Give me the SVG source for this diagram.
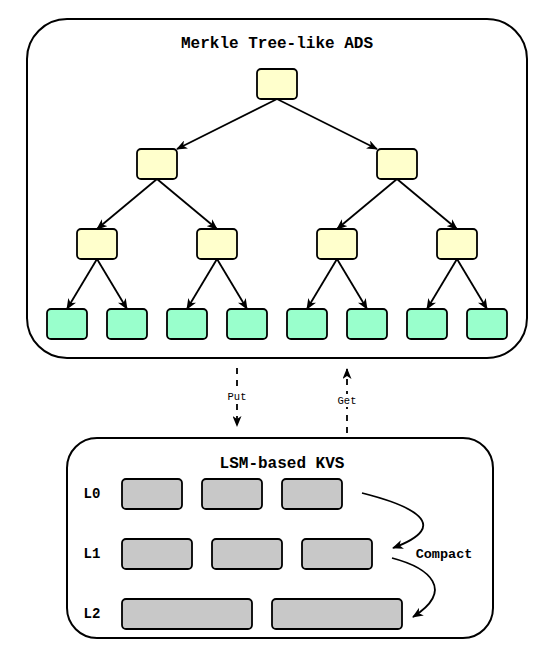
<svg xmlns="http://www.w3.org/2000/svg" width="554" height="653" viewBox="0 0 554 653">
<defs>
<style>
.frame{fill:#fff;stroke:#000;stroke-width:2}
.inner{fill:#FFFFCC;stroke:#000;stroke-width:1.8}
.leaf{fill:#99FFCC;stroke:#000;stroke-width:1.8}
.sst{fill:#C8C8C8;stroke:#000;stroke-width:1.8}
.edge{fill:none;stroke:#000;stroke-width:1.8}
.dash{fill:none;stroke:#000;stroke-width:1.8;stroke-dasharray:6 6}
.title{font-family:"Liberation Mono","Courier New",monospace;font-weight:bold;font-size:16px;text-anchor:middle}
.lvl{font-family:"Liberation Mono","Courier New",monospace;font-weight:bold;font-size:14px;text-anchor:middle}
.small{font-family:"Liberation Mono","Courier New",monospace;font-size:10.5px;text-anchor:middle}
.cmp{font-family:"Liberation Mono","Courier New",monospace;font-weight:bold;font-size:13.5px;text-anchor:middle}
</style>
<marker id="arr" viewBox="0 0 11 9" refX="10" refY="4.5" markerWidth="11" markerHeight="9" markerUnits="userSpaceOnUse" orient="auto">
<path d="M0,0 L11,4.5 L0,9 L3,4.5 z" fill="#000"/>
</marker>
</defs>

<g id="ads-frame">
<rect class="frame" x="27" y="19" width="500" height="339" rx="40"/>
<text class="title" x="277" y="48">Merkle Tree-like ADS</text>
</g>

<g id="lsm-frame">
<rect class="frame" x="67" y="438" width="426" height="200" rx="30"/>
<text class="title" x="282" y="468">LSM-based KVS</text>
</g>

<g id="connectors">
<path class="edge" marker-end="url(#arr)" d="M277,99 L177,149"/>
<path class="edge" marker-end="url(#arr)" d="M277,99 L377,149"/>
<path class="edge" marker-end="url(#arr)" d="M157,179 L97,229"/>
<path class="edge" marker-end="url(#arr)" d="M157,179 L217,229"/>
<path class="edge" marker-end="url(#arr)" d="M397,179 L337,229"/>
<path class="edge" marker-end="url(#arr)" d="M397,179 L457,229"/>
<path class="edge" marker-end="url(#arr)" d="M97,259 L67,309"/>
<path class="edge" marker-end="url(#arr)" d="M97,259 L127,309"/>
<path class="edge" marker-end="url(#arr)" d="M217,259 L187,309"/>
<path class="edge" marker-end="url(#arr)" d="M217,259 L247,309"/>
<path class="edge" marker-end="url(#arr)" d="M337,259 L307,309"/>
<path class="edge" marker-end="url(#arr)" d="M337,259 L367,309"/>
<path class="edge" marker-end="url(#arr)" d="M457,259 L427,309"/>
<path class="edge" marker-end="url(#arr)" d="M457,259 L487,309"/>
<path class="dash" marker-end="url(#arr)" d="M237,368 L237,426"/>
<path class="dash" marker-end="url(#arr)" d="M347,433 L347,369"/>
<path class="edge" marker-end="url(#arr)" d="M362,493 C410,505 455,525 393,548"/>
<path class="edge" marker-end="url(#arr)" d="M392,558 C430,568 455,590 413,617"/>
<rect x="225" y="390" width="24" height="13" fill="#fff"/>
<text class="small" x="237" y="400">Put</text>
<rect x="335" y="394" width="24" height="13" fill="#fff"/>
<text class="small" x="347" y="404">Get</text>
<text class="cmp" x="444" y="558">Compact</text>
</g>

<g id="root"><rect class="inner" x="257" y="69" width="40" height="30" rx="4"/></g>
<g id="n-l"><rect class="inner" x="137" y="149" width="40" height="30" rx="4"/></g>
<g id="n-r"><rect class="inner" x="377" y="149" width="40" height="30" rx="4"/></g>
<g id="n-ll"><rect class="inner" x="77" y="229" width="40" height="30" rx="4"/></g>
<g id="n-lr"><rect class="inner" x="197" y="229" width="40" height="30" rx="4"/></g>
<g id="n-rl"><rect class="inner" x="317" y="229" width="40" height="30" rx="4"/></g>
<g id="n-rr"><rect class="inner" x="437" y="229" width="40" height="30" rx="4"/></g>
<g id="leaf1"><rect class="leaf" x="47" y="309" width="40" height="30" rx="4"/></g>
<g id="leaf2"><rect class="leaf" x="107" y="309" width="40" height="30" rx="4"/></g>
<g id="leaf3"><rect class="leaf" x="167" y="309" width="40" height="30" rx="4"/></g>
<g id="leaf4"><rect class="leaf" x="227" y="309" width="40" height="30" rx="4"/></g>
<g id="leaf5"><rect class="leaf" x="287" y="309" width="40" height="30" rx="4"/></g>
<g id="leaf6"><rect class="leaf" x="347" y="309" width="40" height="30" rx="4"/></g>
<g id="leaf7"><rect class="leaf" x="407" y="309" width="40" height="30" rx="4"/></g>
<g id="leaf8"><rect class="leaf" x="467" y="309" width="40" height="30" rx="4"/></g>

<g id="L0">
<text class="lvl" x="92" y="498">L0</text>
<rect class="sst" x="122" y="479" width="60" height="30" rx="4"/>
<rect class="sst" x="202" y="479" width="60" height="30" rx="4"/>
<rect class="sst" x="282" y="479" width="60" height="30" rx="4"/>
</g>
<g id="L1">
<text class="lvl" x="92" y="558">L1</text>
<rect class="sst" x="122" y="539" width="70" height="30" rx="4"/>
<rect class="sst" x="212" y="539" width="70" height="30" rx="4"/>
<rect class="sst" x="302" y="539" width="70" height="30" rx="4"/>
</g>
<g id="L2">
<text class="lvl" x="92" y="618">L2</text>
<rect class="sst" x="122" y="599" width="130" height="30" rx="4"/>
<rect class="sst" x="272" y="599" width="130" height="30" rx="4"/>
</g>
</svg>
